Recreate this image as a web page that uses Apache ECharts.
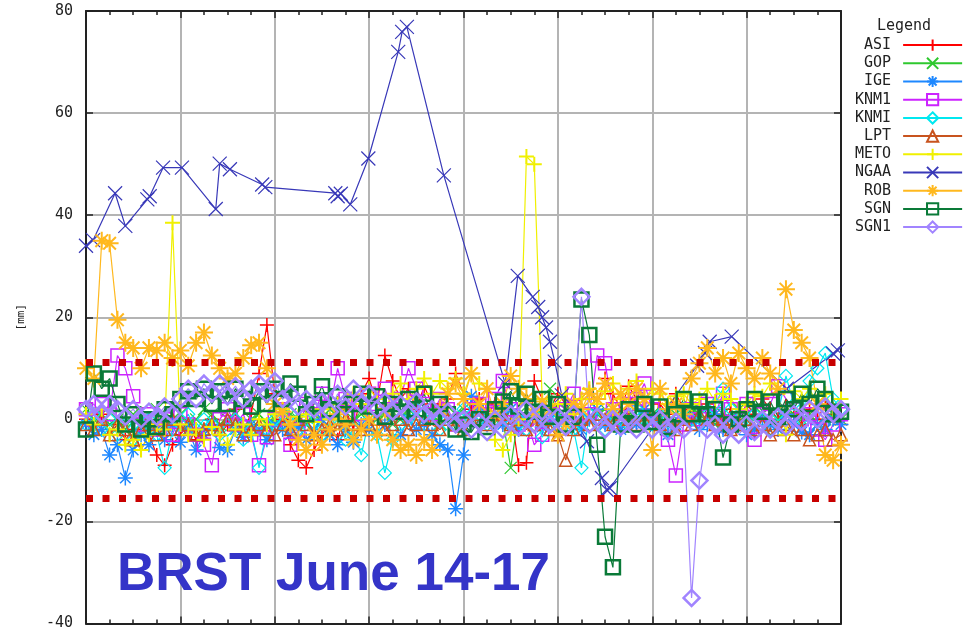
<!DOCTYPE html>
<html>
<head>
<meta charset="utf-8">
<title>BRST June 14-17</title>
<script src="https://cdn.jsdelivr.net/npm/echarts@6/dist/echarts.min.js"></script>
<style>
  html, body { margin: 0; padding: 0; background: #fff; }
  #chart { width: 976px; height: 631px; }
</style>
</head>
<body>
<div id="chart"></div>
<script>
// hourly samples [mm], hour 0 = June 14 00h ... hour 96 = June 18 00h
const asi = [
  0, -2, 1, -3, -1, -4, -2, -6, -3, -7,
  -9, -5, -3, -1, -4, -2, 0, -3, -1, 2,
  -2, 1, 9, 18.5, 5, 0, -5, -8, -9.5, -6,
  -3, -1, -4, 2, -2, 5, 8, 3, 12.5, 7.5,
  4, 6, 2, 6.5, 3, 1, 4, 9, 5, 2,
  4, 1, 3, 0, 2, -9, -8.5, 7.5, 4, 2,
  5, 3, 1, 4, 6, 3, 8, 5, 2, 6.5,
  4, 2, 0, 3, 1, 5, 2, 1, 0.5, 3,
  1, -1, 2, 0, 3, 1, 4, 2, 0, 2.5,
  1, -1, 2, 0, 3, 1, -1
];
const gop = [
  2, 0, 1, -1, 0, -2, 1, -1, 0, 2,
  -1, 0, 1, -1, 0, 2, 1, -1, 0, 1,
  -2, 0, 1, -1, 0, 2, 1, 0, -1, 1,
  0, 2, 1, -1, 0, 1, 2, 0, 1, -1,
  0, 2, 1, 0, 1, -1, 0, 1, 2, 0,
  1, -1, 0, 0, -9.5, 1, 0, 2, 1, 6,
  0, 2, 1, -1, 0, 1, 2, 0, -1, 1,
  0, 2, 1, 0, -1, 1, 0, 2, 1, 0,
  -1, 1, 0, 2, 1, 0, 1, -1, 0, 2,
  1, 0, 1, -1, 0, 1, 0
];
const ige = [
  -1, -3, -2, -7, -5, -11.5, -6, -3, -5, -2,
  -4, -1, -4.5, -2, -6, -3, -1, -5.5, -6, -2,
  -3.5, -1, -2, -4, -1, -2, -3, -1.5, -4, -2,
  0, -3, -5, -2, -4.5, -1, -2, -3, -1, -4,
  -3, 0, -2, -1, -3, -5, -6, -17.5, -7, 4.5,
  2, 0, 1, -1, 2, -2, 0, 1, -1.5, 0,
  -3, -1, 1, -2, 0, 2, -1, 1, -2, 0,
  -1, 2, 0, -1, -3, -1, 1, 0, -2, -1,
  1, -2, 0, -1, -3, -2, 0, -1, -2, 1,
  -1, -2.5, -3, -1, -2, 0, -1
];
const knm1 = [
  2, 0, 3, 1, 12.5, 10, 4.5, -1, 1, -2,
  0, -3, 1, -1, -3, -5, -9, 0, 2, -1,
  1, -3, -9, -3.5, 0, 2, -5, -2, 3, 1,
  5, 2, 10, 4, 3.5, 1, 5, 3, 6, 2,
  4, 10, 6, 3, 1, 4, 2, -1, 0, 2,
  3, 1, 4, 7.5, 2, -1, 0, -5, -3, 1,
  3, 2, 5, 1, 1, 12.5, 11, 2, 0, 3,
  4, 7, 2, 0, -4, -11, -1, 2, 0, 3,
  1, 5, 2, 0, 3, -4, 1, 3, 6.5, 4,
  2, 0, 1, -2, -4, -1, 1
];
const knmi = [
  -1, 1, -2, 0, -3, -1, -4, -2, 0, -3,
  -9.5, -2, -1, 1, -2, 0, -1, -3, -2, 0,
  -4, -2, -9.5, -2, 0, -1, 1, -2, 0, -1,
  -3, -2, 0, -4, -2, -7, 0, -3, -10.5, -4,
  -1, 0, 2, -1, 1, -2, 0, -1, 2, 0,
  1, -1, 0, 2, -1, 0, -2, 1, -3.5, -1,
  0, -1, -2, -9.5, 1, 0, -2, 1, 0, -1,
  2, 0, -1, 1, -2, 0, 2, 0, -1, 1,
  3, 6, 2, 0, -1, 1, 0, -2, 1, 8.5,
  3, 0, 7.5, 10, 13, 4, 2
];
const lpt = [
  -1, -2, 0, -3, -1, -2, -4, -2, -1, -3,
  -2, 0, -2, -1, -3, -2, -1, -2, 0, -1,
  -3, -2, -1, -2, -3, -1, -2, 0, -1, -3,
  -2, -1, -2, 0, -1, -2, -1, 0, -2, -1,
  0, -2, -1, 0, -1, -2, 0, -1, -2, 0,
  1, -1, 0, 1, -1, 0, -2, -1, 0, -2,
  -3, -8, -2, 0, -1, 1, 0, -1, 1, 0,
  -1, 0, 1, -1, 0, -2, 0, -1, 1, 0,
  -1, 0, -2, -1, 0, -2, -1, -3, -2, -1,
  -3, -2, -4, -3, -2, -4, -3
];
const meto = [
  1, -1, 2, -3, -2, -5, -4, -6, -3, -1,
  -2, 38.5, -1, -3, -2, -4, -1.5, -3, -5, -2,
  -1, -3, 0, -1, 1, 2, -1, 0.5, 1, -0.5,
  2, 0, 3, 1.5, 5, 3, 6, 4, 2, 5,
  7, 4, 6, 8, 5, 7.5, 6, 8, 5, 9,
  7, 6, -4, -6, -3, 0, 51.5, 50, 4, 2,
  3, 5, 1, 4, 6, 3, 5.5, 7, 4, 6,
  7.5, 4, 6, 5, 3, 4.5, 5, 3, 4, 6,
  3.5, 5, 4, 2, 3, 5, 4.5, 7, 5, -3,
  5.5, 4, 6, 3, 5, 2, 4
];
const rob = [
  10, 8, 35, 34.5, 19.5, 15, 14, 10, 14, 13.5,
  15, 12, 13.5, 10.5, 15, 17, 12.5, 10, 8, 9,
  12, 14.5, 15, 10, 3, 1.5, -1, -4, -6, -3,
  -5, -2, 1, -1, -4, -2, 0, -3, 2, -4,
  -6, -5, -7, -4, -6, 2, 5, 7, 4, 9,
  3, 6, 1, 3, 8.5, 6, 4, 1, 3.5, 2,
  -3, -1, 3, 2, 5, 4, 7, 2, 5, 3,
  6, 4, -6, 6, 2, 3, 1, 8, 11, 14,
  9, 12, 7, 13, 10, 8, 12, 9, 6, 25.5,
  17.5, 15, 12, 3, -7, -8, -5
];
const sgn = [
  -2, 9, 6, 8, 3, -1, 1, -2, 0, -1.5,
  2, 1, 4, 5.5, 4, 6, 3, 5.5, 3, 6,
  4, 2.5, 5.5, 3, 6, 4, 7, 5, 1, 3,
  6.5, 2, 4.5, 1, 3, 5, 2.5, 4.5, 0.5, 3,
  1.5, 4, 2, 5, 0.5, 3, 1, -2, -1, -2.5,
  0, -1.5, 2, 3.5, 5.5, 2.5, 5, 1.5, 4, 0.5,
  3, -1, 0.5, 23.5, 16.5, -5, -23, -29, -1, 2,
  -1, 3, -0.5, 2.5, -1.5, 1, 4, 1, 3.5, 1,
  2, -7.5, -1, 0, 2, 4, 1.5, 3.5, 0.5, 4,
  2, 5, 3, 6, 4, 1, 1.5
];
const sgn1 = [
  2, 3, 1, 3, 2, 0.5, 2, 0, 1.5, 0.5,
  2.5, 1, 4, 6, 4, 7, 5, 7, 4.5, 6.5,
  4, 6, 7, 5, 7.5, 4, 5, 2.5, 4, 2,
  3.5, 1.5, 5, 2.5, 6, 3, 5, 2, 3.5, 1.5,
  3, 1, 3.5, 1, 2, 0, 1.5, -1, 0, -2,
  -0.5, -2.5, 0, -2, 1, -1.5, 2, -1, 1.5, -1,
  0.5, -1.5, 1, 24, -1, 0.5, -2, 0, -1.5, 0.5,
  -2, -0.5, -2, 0, -2.5, -0.5, -2, -35, -12, -2,
  -1, -3, -1, -3, -1, -2.5, 0, -2, 0.5, -1.5,
  1, -0.5, 2, 0, 2.5, 1, 2
];
// NGAA is sparse: hours and values
const ngaaHours = [
  0, 0.9, 3.7, 5.0, 7.8, 8.1, 9.8, 12.2, 16.5, 17.0, 18.3, 22.4, 22.8,
  31.7, 32.0, 32.4, 33.6, 35.9, 39.7, 40.2, 40.8, 45.5, 53.3, 54.9,
  56.8, 57.5, 58.0, 58.5, 59.0, 59.6, 60.5, 63.7, 65.6, 66.2, 66.6,
  77.7, 78.7, 79.3, 82.1, 89.1, 95.0, 95.6
];
const ngaaValues = [
  34, 35.1, 44.3, 37.9, 43.1, 43.7, 49.3, 49.3, 41.2, 50.1, 49.0, 46.0, 45.5,
  44.3, 43.7, 44.2, 42.1, 51.1, 72.0, 75.9, 76.9, 47.8, 7, 28.1,
  24.0, 22.0, 20.0, 18.0, 15.2, 11.3, 4.7, -4.3, -11.5, -13.8, -13.5,
  10.5, 13.0, 15.2, 16.2, 6.0, 12.9, 13.5
];
const limits = [11.2, -15.4];

const symbols = {
  plus: 'path://M0,5L10,5M5,0L5,10',
  cross: 'path://M0,0L10,10M10,0L0,10',
  star: 'path://M0,5L10,5M5,0L5,10M1.5,1.5L8.5,8.5M8.5,1.5L1.5,8.5',
  square: 'path://M0,0L10,0L10,10L0,10Z',
  diamond: 'path://M5,0L10,5L5,10L0,5Z',
  triangle: 'path://M5,0L10,10L0,10Z'
};

const hourly = vals => vals.map((v, i) => [i, v]);

const defs = [
  { name: 'ASI', data: hourly(asi), color: '#ff0000', symbol: 'plus', size: 14, bw: 1.5 },
  { name: 'GOP', data: hourly(gop), color: '#2ec82e', symbol: 'cross', size: 12, bw: 1.2 },
  { name: 'IGE', data: hourly(ige), color: '#1e88ff', symbol: 'star', size: 15, bw: 1.5 },
  { name: 'KNM1', data: hourly(knm1), color: '#cc22ff', symbol: 'square', size: 13, bw: 1.5 },
  { name: 'KNMI', data: hourly(knmi), color: '#00e8f0', symbol: 'diamond', size: 13, bw: 1.2 },
  { name: 'LPT', data: hourly(lpt), color: '#c8531e', symbol: 'triangle', size: 12, bw: 1.5 },
  { name: 'METO', data: hourly(meto), color: '#f0f000', symbol: 'plus', size: 15, bw: 2 },
  { name: 'NGAA', data: ngaaHours.map((h, i) => [h, ngaaValues[i]]), color: '#3838b8', symbol: 'cross', size: 14, bw: 1.2 },
  { name: 'ROB', data: hourly(rob), color: '#ffb81e', symbol: 'star', size: 18, bw: 2 },
  { name: 'SGN', data: hourly(sgn), color: '#0a7a38', symbol: 'square', size: 14, bw: 2.5 },
  { name: 'SGN1', data: hourly(sgn1), color: '#a184ff', symbol: 'diamond', size: 16, bw: 2.5 }
];

const mono = '"DejaVu Sans Mono", monospace';

const series = defs.map(d => ({
  name: d.name,
  type: 'line',
  data: d.data,
  color: d.color,
  symbol: symbols[d.symbol],
  symbolSize: d.size,
  showAllSymbol: true,
  lineStyle: { color: d.color, width: 1.2 },
  itemStyle: { color: 'none', borderColor: d.color, borderWidth: d.bw },
  emphasis: { disabled: true }
}));

// the two red dotted limit lines, drawn on top of everything
series[series.length - 1].markLine = {
  silent: true,
  symbol: 'none',
  label: { show: false },
  lineStyle: { color: '#c80000', width: 7, type: [7, 9.5], opacity: 1 },
  emphasis: { disabled: true },
  data: limits.map(v => ({ yAxis: v }))
};

const xCommon = {
  type: 'value', min: 0, max: 96, interval: 12,
  axisLine: { show: true, onZero: false, lineStyle: { color: '#222', width: 2 } },
  axisTick: { show: true, inside: true, length: 7, lineStyle: { color: '#222', width: 1.5 } },
  minorTick: { show: true, splitNumber: 4, length: 4, lineStyle: { color: '#222', width: 1.5 } },
  axisLabel: { show: false }
};
const yCommon = {
  type: 'value', min: -40, max: 80, interval: 20,
  axisLine: { show: true, onZero: false, lineStyle: { color: '#222', width: 2 } },
  axisTick: { show: true, inside: true, length: 7, lineStyle: { color: '#222', width: 1.5 } }
};

const chart = echarts.init(document.getElementById('chart'));
chart.setOption({
  animation: false,
  backgroundColor: '#fff',
  grid: { left: 86, right: 135, top: 11, bottom: 5 },
  xAxis: [
    Object.assign({}, xCommon, {
      position: 'bottom',
      splitLine: { show: true, lineStyle: { color: '#b4b4b4', width: 2 } }
    }),
    Object.assign({}, xCommon, { position: 'top', splitLine: { show: false } })
  ],
  yAxis: [
    Object.assign({}, yCommon, {
      position: 'left',
      name: '[mm]',
      nameLocation: 'middle',
      nameGap: 59,
      nameTextStyle: { fontFamily: mono, fontSize: 11, color: '#222' },
      axisLabel: { fontFamily: mono, fontSize: 15, color: '#222', margin: 13 },
      splitLine: { show: true, lineStyle: { color: '#b4b4b4', width: 2 } }
    }),
    Object.assign({}, yCommon, {
      position: 'right',
      axisLabel: { show: false },
      splitLine: { show: false }
    })
  ],
  legend: {
    orient: 'vertical',
    left: 850,
    top: 32,
    align: 'right',
    itemWidth: 59,
    itemHeight: 14,
    itemGap: 2,
    selectedMode: false,
    formatter: n => n.padStart(4, ' '),
    textStyle: { fontFamily: mono, fontSize: 15, color: '#222', padding: [0, 7, 0, 0] },
    data: defs.map(d => d.name)
  },
  graphic: [
    {
      type: 'text', x: 904, y: 26, silent: true,
      style: { text: 'Legend', font: '15px ' + mono, fill: '#222', align: 'center', verticalAlign: 'middle' }
    },
    {
      type: 'text', x: 117, y: 575, z: 100, silent: true,
      style: { text: 'BRST June 14-17', font: 'bold 53px "Liberation Sans", Arial, sans-serif', fill: '#3434c8', align: 'left', verticalAlign: 'middle' }
    }
  ],
  series: series
});
</script>
</body>
</html>
